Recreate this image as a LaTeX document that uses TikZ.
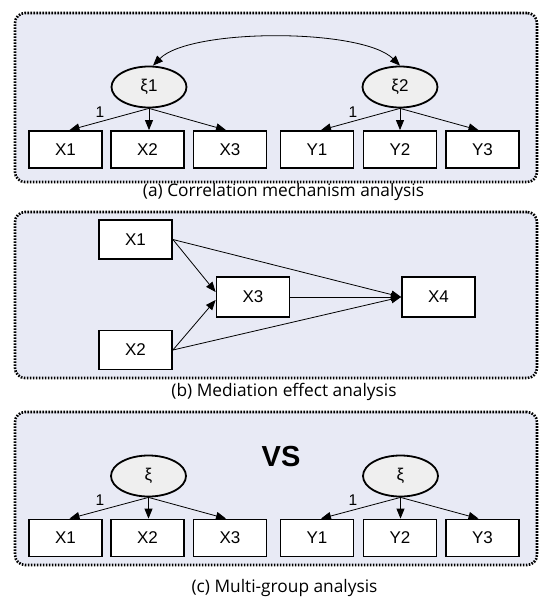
\documentclass[tikz,border=0pt]{standalone}
\usepackage{fontspec}
\setmainfont{Liberation Sans}
\newfontfamily\capfont{Open Sans}
\usetikzlibrary{arrows.meta,shapes.geometric}
\definecolor{panelbg}{HTML}{E8EAF5}
\definecolor{latbg}{HTML}{EFEFEF}
\begin{document}
\begin{tikzpicture}[x=1pt,y=-1pt,
  panel/.style={draw=black, fill=panelbg, line width=2.6pt, dash pattern=on 1.6pt off 1.4pt, rounded corners=10pt, inner sep=0pt},
  obs/.style={draw=black, fill=white, line width=1.8pt, minimum width=73pt, minimum height=37pt, inner sep=0pt, font=\fontsize{17}{20}\selectfont},
  lat/.style={draw=black, fill=latbg, ellipse, line width=1.8pt, minimum width=75pt, minimum height=41pt, inner sep=0pt, font=\fontsize{17}{20}\selectfont},
  arr/.style={-{Triangle[length=10pt,width=8pt]}, line width=0.8pt},
  biarr/.style={{Triangle[length=10pt,width=8pt]}-{Triangle[length=10pt,width=8pt]}, line width=0.8pt},
  captext/.style={font=\capfont\fontsize{17.3}{20}\selectfont, inner sep=0pt},
  onelabel/.style={font=\fontsize{15.5}{18}\selectfont, inner sep=0pt},
  vstext/.style={font=\bfseries\fontsize{29}{31}\selectfont, inner sep=0pt}]
\useasboundingbox[fill=white] (0,0) rectangle (550,602);

% ---------- panel (a)
\node[panel, minimum width=522pt, minimum height=169pt] (pa) at (276,97.5) {};
\node[lat] (e1) at (149,87) {ξ1};
\node[lat] (e2) at (400,87) {ξ2};
\node[obs] (a1) at (65.5,149.5) {X1};
\node[obs] (a2) at (147.5,149.5) {X2};
\node[obs] (a3) at (230,149.5) {X3};
\node[obs] (a4) at (317,149.5) {Y1};
\node[obs] (a5) at (400,149.5) {Y2};
\node[obs] (a6) at (482.5,149.5) {Y3};
\draw[arr] (e1.south) -- ([xshift=4pt]a1.north);
\draw[arr] (e1.south) -- (e1.south |- a2.north);
\draw[arr] (e1.south) -- ([xshift=-4pt]a3.north);
\draw[arr] (e2.south) -- ([xshift=4pt]a4.north);
\draw[arr] (e2.south) -- (a5.north);
\draw[arr] (e2.south) -- ([xshift=-4pt]a6.north);
\draw[biarr] ([xshift=4pt]e1.north) .. controls (190,28) and (362,28) .. (e2.north);
\node[onelabel] (la1) at (100,112) {1};
\node[onelabel] (la2) at (353,112) {1};
\node[captext] (ca) at (283.5,192) {(a) Correlation mechanism analysis};

% ---------- panel (b)
\node[panel, minimum width=522pt, minimum height=166pt] (pb) at (276,295) {};
\node[obs, minimum height=39pt] (b1) at (135.5,239.5) {X1};
\node[obs, minimum height=39pt] (b2) at (135.5,350) {X2};
\node[obs, minimum height=40pt] (b3) at (253,297) {X3};
\node[obs, minimum height=40pt] (b4) at (438.5,297) {X4};
\draw[arr] (b1.east) -- ([yshift=5pt]b3.west);
\draw[arr] (b2.east) -- ([yshift=-3pt]b3.west);
\draw[arr] (b1.east) -- (b4.west);
\draw[arr] (b3.east) -- (b4.west);
\draw[arr] (b2.east) -- (b4.west);
\node[captext] (cb) at (284,392) {(b) Mediation effect analysis};

% ---------- panel (c)
\node[panel, minimum width=522pt, minimum height=153pt] (pc) at (276,488.5) {};
\node[vstext] (vs) at (281,457) {VS};
\node[lat] (f1) at (148.5,476) {ξ};
\node[lat] (f2) at (400.5,476) {ξ};
\node[obs] (c1) at (65.5,538) {X1};
\node[obs] (c2) at (147.5,538) {X2};
\node[obs] (c3) at (230,538) {X3};
\node[obs] (c4) at (317,538) {Y1};
\node[obs] (c5) at (400,538) {Y2};
\node[obs] (c6) at (482.5,538) {Y3};
\draw[arr] (f1.south) -- ([xshift=4pt]c1.north);
\draw[arr] (f1.south) -- (f1.south |- c2.north);
\draw[arr] (f1.south) -- ([xshift=-4pt]c3.north);
\draw[arr] (f2.south) -- ([xshift=4pt]c4.north);
\draw[arr] (f2.south) -- (f2.south |- c5.north);
\draw[arr] (f2.south) -- ([xshift=-4pt]c6.north);
\node[onelabel] (lc1) at (100,500) {1};
\node[onelabel] (lc2) at (353,500) {1};
\node[captext] (cc) at (284.5,588) {(c) Multi-group analysis};
\end{tikzpicture}
\end{document}
